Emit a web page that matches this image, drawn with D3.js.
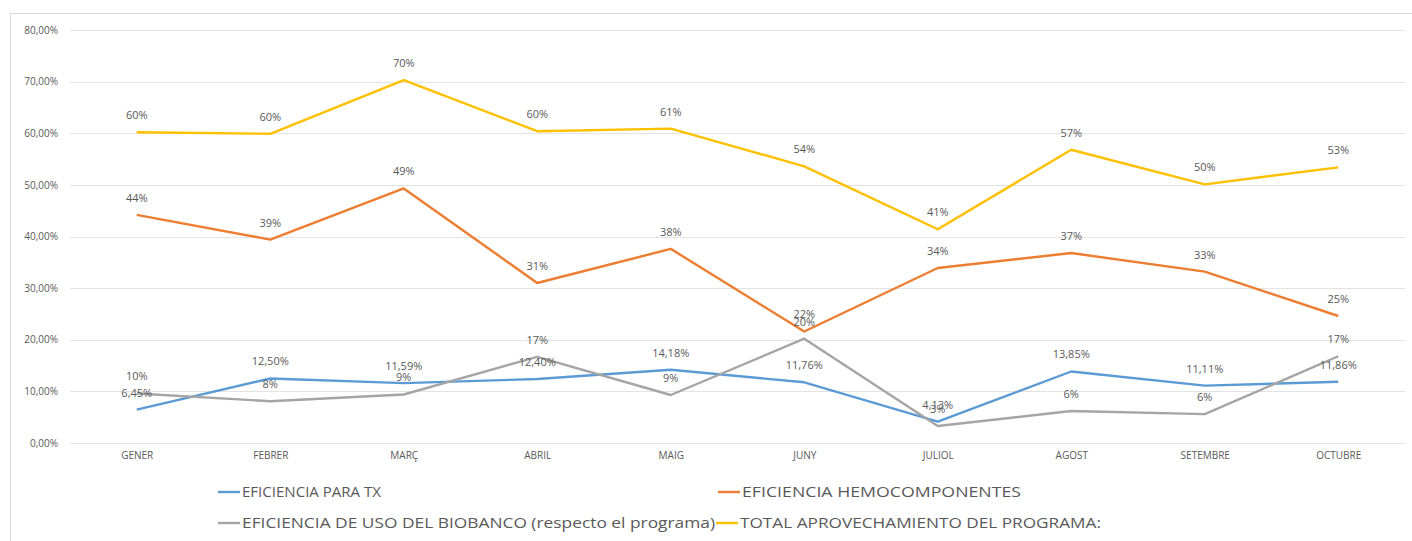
<!DOCTYPE html>
<html lang="es">
<head>
<meta charset="UTF-8">
<title>Eficiencia</title>
<script src="https://d3js.org/d3.v7.min.js"></script>
<style>
  body { margin: 0; background: #fff; }
  text { font-family: "Open Sans", "Liberation Sans", sans-serif; fill: #595959; }
  .grid line { stroke: #e3e3e3; stroke-width: 1; }
  .line { fill: none; stroke-width: 2.4px; stroke-linejoin: round; }
</style>
</head>
<body>
<svg id="chart" width="1412" height="541"></svg>
<script>
// datos
const months = ["GENER", "FEBRER", "MARÇ", "ABRIL", "MAIG", "JUNY", "JULIOL", "AGOST", "SETEMBRE", "OCTUBRE"];
const tx = [6.45, 12.50, 11.59, 12.40, 14.18, 11.76, 4.13, 13.85, 11.11, 11.86];
const hemo = [44.2, 39.4, 49.3, 31.0, 37.6, 21.6, 33.9, 36.8, 33.2, 24.6];
const biobanco = [9.6, 8.1, 9.4, 16.7, 9.3, 20.2, 3.3, 6.2, 5.6, 16.8];
const total = [60.2, 59.9, 70.3, 60.4, 60.9, 53.6, 41.4, 56.8, 50.1, 53.4];
const yTicks = [0, 10, 20, 30, 40, 50, 60, 70, 80];

const series = [
  { name: "EFICIENCIA PARA TX", values: tx, color: "#5b9bd5", fmt: v => v.toFixed(2).replace(".", ",") + "%" },
  { name: "EFICIENCIA HEMOCOMPONENTES", values: hemo, color: "#ed7d31", fmt: v => Math.round(v) + "%" },
  { name: "EFICIENCIA DE USO DEL BIOBANCO (respecto el programa)", values: biobanco, color: "#a5a5a5", fmt: v => Math.round(v) + "%" },
  { name: "TOTAL APROVECHAMIENTO DEL PROGRAMA:", values: total, color: "#ffc000", fmt: v => Math.round(v) + "%" }
];

const svg = d3.select("#chart");

// marco del grafico
svg.append("rect")
  .attr("x", 10.5).attr("y", 13.5)
  .attr("width", 1412).attr("height", 540)
  .attr("fill", "none").attr("stroke", "#d9d9d9");

const x = d3.scalePoint().domain(months).range([70, 1405]).padding(0.5);
const y = d3.scaleLinear().domain([0, 80]).range([443, 30]);

// rejilla
svg.append("g").attr("class", "grid")
  .selectAll("line").data(yTicks).join("line")
  .attr("x1", 70).attr("x2", 1405)
  .attr("y1", d => Math.round(y(d)) + 0.5).attr("y2", d => Math.round(y(d)) + 0.5);

// eje Y
const yAxis = svg.append("g").attr("transform", "translate(58,0)")
  .call(d3.axisLeft(y).tickValues(yTicks).tickSize(0).tickPadding(0)
    .tickFormat(d => d.toFixed(2).replace(".", ",") + "%"));
yAxis.select(".domain").remove();
yAxis.selectAll("text").style("font-size", "10px").style("fill", "#595959");

// eje X
const xAxis = svg.append("g").attr("transform", "translate(0,452)")
  .call(d3.axisBottom(x).tickSize(0).tickPadding(0));
xAxis.select(".domain").remove();
xAxis.selectAll("text").style("font-size", "10px").style("fill", "#595959");

// lineas
const line = d3.line().x((d, i) => x(months[i])).y(d => y(d));
svg.selectAll(".line").data(series).join("path")
  .attr("class", "line")
  .attr("stroke", d => d.color)
  .attr("d", d => line(d.values));

// etiquetas de datos
series.forEach(s => {
  svg.append("g").selectAll("text").data(s.values).join("text")
    .attr("x", (d, i) => x(months[i]))
    .attr("y", d => y(d) - 13)
    .attr("text-anchor", "middle")
    .style("font-size", "11px")
    .text(d => s.fmt(d));
});

// leyenda: posicion y ancho del texto de cada entrada
const legendPos = [[218, 492, 139], [718, 492, 279], [218, 523, 473], [716, 523, 361]];
const legend = svg.append("g").selectAll("g").data(series).join("g")
  .attr("transform", (d, i) => `translate(${legendPos[i][0]},${legendPos[i][1]})`);
legend.append("line")
  .attr("x1", 0).attr("x2", 22)
  .attr("stroke", d => d.color).attr("stroke-width", 2.4);
legend.append("text")
  .attr("x", 24).attr("dy", "0.36em")
  .attr("textLength", (d, i) => legendPos[i][2])
  .attr("lengthAdjust", "spacingAndGlyphs")
  .style("font-size", "15px")
  .style("fill", "#595959")
  .text(d => d.name);
</script>
</body>
</html>
